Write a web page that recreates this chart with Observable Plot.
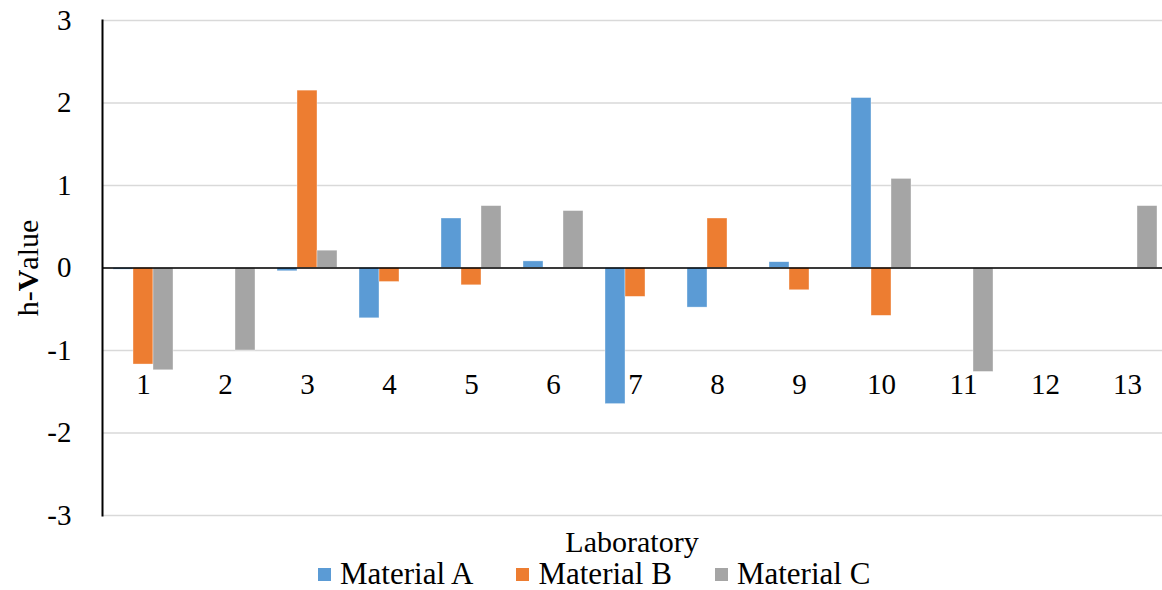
<!DOCTYPE html>
<html>
<head>
<meta charset="utf-8">
<script src="https://cdn.jsdelivr.net/npm/d3@7"></script>
<script src="https://cdn.jsdelivr.net/npm/@observablehq/plot@0.6"></script>
<style>
  html, body { margin: 0; padding: 0; background: #fff; }
  #wrap { position: relative; width: 1162px; height: 590px; overflow: hidden; font-family: "Liberation Serif", Tinos, "Times New Roman", Times, "DejaVu Serif", serif; color: #000; }
  #chart { position: absolute; left: 0; top: 0; width: 1170px; }
  #chart svg { max-width: none !important; width: 1170px; height: 545px; }
  #xlabel { position: absolute; left: 102px; width: 1060px; top: 524px; text-align: center; font-size: 30px; line-height: 36px; }
  #legend { position: absolute; left: 318px; top: 556px; display: flex; align-items: center; font-size: 31px; line-height: 36px; }
  .item { display: flex; align-items: center; margin-right: 43px; }
  .sw { width: 13px; height: 13px; margin-right: 9px; }
</style>
</head>
<body>
<div id="wrap">
  <div id="chart"></div>
  <div id="xlabel">Laboratory</div>
  <div id="legend"></div>
</div>
<script>
const labs = [1, 2, 3, 4, 5, 6, 7, 8, 9, 10, 11, 12, 13];
const materials = ["Material A", "Material B", "Material C"];
const colors = ["#5B9BD5", "#ED7D31", "#A5A5A5"];
const valuesA = [-0.02, null, -0.04, -0.61, 0.60, 0.08, -1.65, -0.48, 0.07, 2.06, null, null, null];
const valuesB = [-1.17, null, 2.15, -0.17, -0.21, null, -0.35, 0.60, -0.27, -0.58, null, null, null];
const valuesC = [-1.24, -1.00, 0.21, null, 0.75, 0.69, null, null, null, 1.08, -1.26, null, 0.75];
const yTicks = [-3, -2, -1, 0, 1, 2, 3];
const yLabel = ["h-", "V", "alue"];

const serif = '"Liberation Serif", Tinos, "Times New Roman", Times, "DejaVu Serif", serif';

const series = [valuesA, valuesB, valuesC];
const data = [];
labs.forEach((lab, i) => {
  materials.forEach((m, j) => {
    const v = series[j][i];
    if (v !== null) data.push({lab, material: m, value: v});
  });
});

const chart = Plot.plot({
  width: 1170,
  height: 545,
  marginLeft: 102,
  marginRight: 2,
  marginTop: 20,
  marginBottom: 30,
  style: {fontFamily: serif, fontSize: "29px", color: "#000", background: "transparent", overflow: "visible", maxWidth: "none"},
  fx: {domain: labs, padding: 0, axis: null, label: null},
  x: {domain: materials, paddingInner: 0, paddingOuter: 0.49, axis: null},
  y: {domain: [-3, 3], ticks: yTicks, tickSize: 0, tickPadding: 31, tickFormat: d => String(d), label: null},
  color: {domain: materials, range: colors},
  marks: [
    Plot.gridY(yTicks, {stroke: "#d9d9d9", strokeOpacity: 1, strokeWidth: 1.5}),
    Plot.barY(data, {fx: "lab", x: "material", y: "value", fill: "material", stroke: "#fff", strokeWidth: 0.6, strokeOpacity: 0.6}),
    Plot.ruleY([0], {stroke: "#000", strokeWidth: 1.6}),
    Plot.text(labs, {fx: d => d, y: () => -1.42, text: d => String(d), fontSize: 29, lineAnchor: "middle", fill: "#000"}),
    Plot.frame({anchor: "left", facetAnchor: "left", stroke: "#000", strokeWidth: 2})
  ]
});
document.getElementById("chart").appendChild(chart);

// y-axis title with bold "V"
const svg = d3.select(chart);
const t = svg.append("text")
  .attr("transform", "translate(38,268) rotate(-90)")
  .attr("text-anchor", "middle")
  .attr("font-size", 30)
  .attr("font-family", serif)
  .attr("fill", "#000");
yLabel.forEach((s, i) => t.append("tspan").attr("font-weight", i === 1 ? "bold" : "normal").text(s));

// legend
const lg = d3.select("#legend");
materials.forEach((m, i) => {
  const it = lg.append("div").attr("class", "item");
  it.append("div").attr("class", "sw").style("background", colors[i]);
  it.append("span").text(m);
});
</script>
</body>
</html>
